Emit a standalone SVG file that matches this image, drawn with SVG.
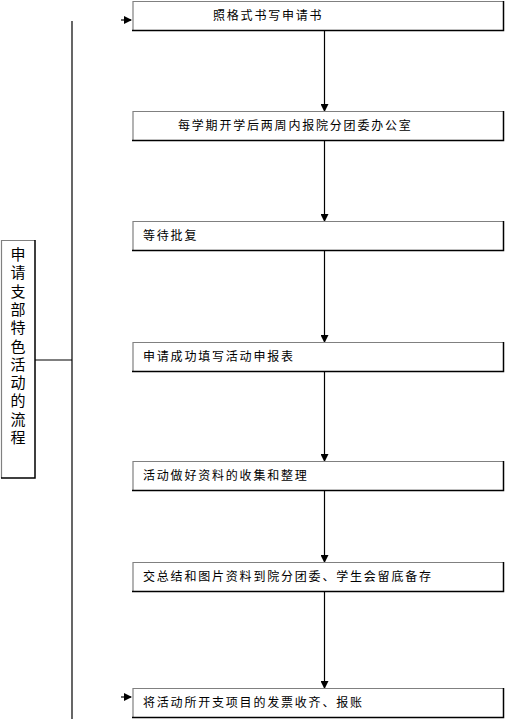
<svg xmlns="http://www.w3.org/2000/svg" width="505" height="719" viewBox="0 0 505 719">
<style>
.bg{fill:#fff;stroke:none}
.tl{stroke:#808080;stroke-width:1.2;fill:none}
.br{stroke:#000;stroke-width:1.5;fill:none}
.ln{stroke:#000;stroke-width:1.2;fill:none}
.t{font-family:"Liberation Sans","Noto Sans CJK SC",sans-serif;font-size:12px;letter-spacing:1.8px;fill:#000}
.v{font-family:"Liberation Sans","Noto Sans CJK SC",sans-serif;font-size:15px;fill:#000;text-anchor:middle}
</style>
<defs>
<marker id="ah" markerWidth="8" markerHeight="8" refX="7" refY="4" orient="auto" markerUnits="userSpaceOnUse">
<path d="M0,0 L8,4 L0,8 z" fill="#000"/>
</marker>
</defs>
<rect width="505" height="719" fill="#fff"/>
<g id="connectors">
<line class="ln" x1="72" y1="21" x2="72" y2="719"/>
<line class="ln" x1="35" y1="360" x2="72" y2="360"/>
<line class="ln" x1="121" y1="20" x2="131" y2="20" marker-end="url(#ah)"/>
<line class="ln" x1="121" y1="697" x2="131" y2="697" marker-end="url(#ah)"/>
<line class="ln" x1="324.5" y1="31" x2="324.5" y2="111" marker-end="url(#ah)"/>
<line class="ln" x1="324.5" y1="141" x2="324.5" y2="221" marker-end="url(#ah)"/>
<line class="ln" x1="324.5" y1="251" x2="324.5" y2="342" marker-end="url(#ah)"/>
<line class="ln" x1="324.5" y1="372" x2="324.5" y2="461" marker-end="url(#ah)"/>
<line class="ln" x1="324.5" y1="491" x2="324.5" y2="562" marker-end="url(#ah)"/>
<line class="ln" x1="324.5" y1="592" x2="324.5" y2="688" marker-end="url(#ah)"/>
</g>
<g id="side">
<rect class="bg" x="1" y="240" width="34" height="238"/>
<path class="tl" d="M1.5,478 V240.5 H35"/>
<path class="br" d="M1,478 H35 V240"/>
<text class="v" x="18" y="260">申</text>
<text class="v" x="18" y="278.3">请</text>
<text class="v" x="18" y="296.6">支</text>
<text class="v" x="18" y="314.9">部</text>
<text class="v" x="18" y="333.2">特</text>
<text class="v" x="18" y="351.5">色</text>
<text class="v" x="18" y="369.8">活</text>
<text class="v" x="18" y="388.1">动</text>
<text class="v" x="18" y="406.4">的</text>
<text class="v" x="18" y="424.7">流</text>
<text class="v" x="18" y="443">程</text>
</g>
<g id="n1">
<rect class="bg" x="132" y="1" width="371" height="29"/>
<path class="tl" d="M133,30 V1.5 H503"/>
<path class="br" d="M132,30.5 H503.5 V1"/>
<text class="t" x="213" y="20">照格式书写申请书</text>
</g>
<g id="n2">
<rect class="bg" x="132" y="111" width="371" height="29"/>
<path class="tl" d="M133,140 V111.5 H503"/>
<path class="br" d="M132,140.5 H503.5 V111"/>
<text class="t" x="178" y="130">每学期开学后两周内报院分团委办公室</text>
</g>
<g id="n3">
<rect class="bg" x="132" y="221" width="371" height="29"/>
<path class="tl" d="M133,250 V221.5 H503"/>
<path class="br" d="M132,250.5 H503.5 V221"/>
<text class="t" x="143" y="240">等待批复</text>
</g>
<g id="n4">
<rect class="bg" x="132" y="342" width="371" height="29"/>
<path class="tl" d="M133,371 V342.5 H503"/>
<path class="br" d="M132,371.5 H503.5 V342"/>
<text class="t" x="143" y="361">申请成功填写活动申报表</text>
</g>
<g id="n5">
<rect class="bg" x="132" y="461" width="371" height="29"/>
<path class="tl" d="M133,490 V461.5 H503"/>
<path class="br" d="M132,490.5 H503.5 V461"/>
<text class="t" x="143" y="480">活动做好资料的收集和整理</text>
</g>
<g id="n6">
<rect class="bg" x="132" y="562" width="371" height="29"/>
<path class="tl" d="M133,591 V562.5 H503"/>
<path class="br" d="M132,591.5 H503.5 V562"/>
<text class="t" x="143" y="581">交总结和图片资料到院分团委、学生会留底备存</text>
</g>
<g id="n7">
<rect class="bg" x="132" y="688" width="371" height="29"/>
<path class="tl" d="M133,717 V688.5 H503"/>
<path class="br" d="M132,717.5 H503.5 V688"/>
<text class="t" x="143" y="707">将活动所开支项目的发票收齐、报账</text>
</g>
</svg>
